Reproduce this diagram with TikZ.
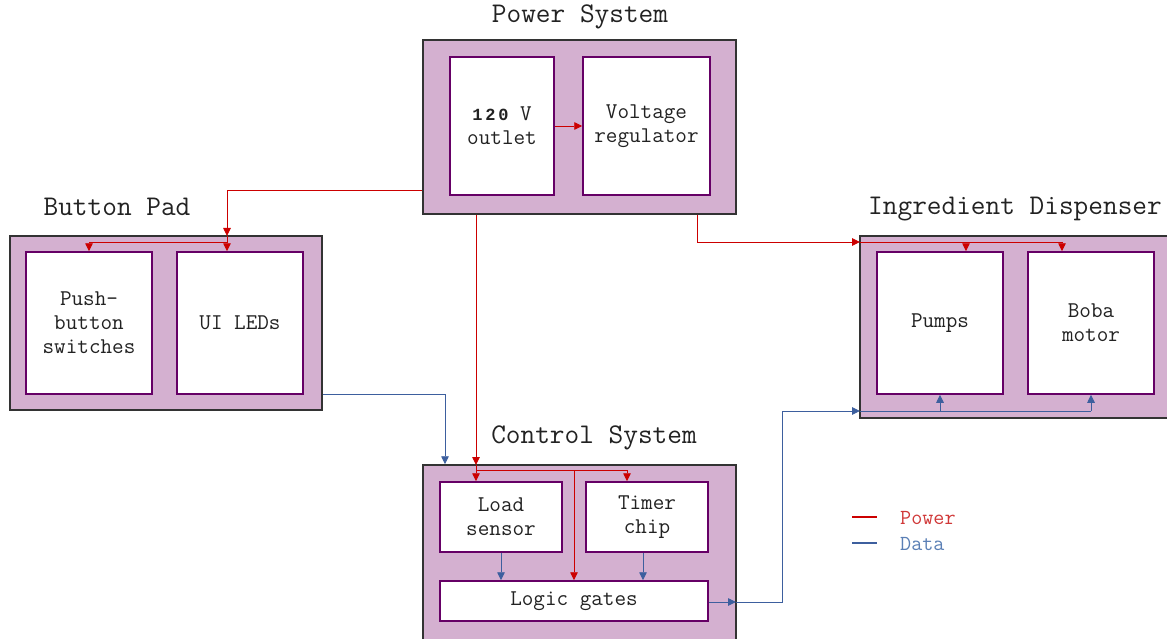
\documentclass[tikz,border=0pt]{standalone}
\usepackage{fontspec}
\newfontfamily\boldmono{Liberation Mono}
\usetikzlibrary{arrows.meta}
\definecolor{boxfill}{HTML}{D4B0D0}
\definecolor{outerline}{HTML}{333333}
\definecolor{innerline}{HTML}{660066}
\definecolor{pwr}{HTML}{CC0000}
\definecolor{dat}{HTML}{3D5F9E}
\definecolor{pwrtxt}{HTML}{D03838}
\definecolor{dattxt}{HTML}{5A7FB5}
\definecolor{txt}{HTML}{222222}
\tikzset{
  outerbox/.style={draw=outerline, fill=boxfill, line width=1.5pt, inner sep=0pt},
  innerbox/.style={draw=innerline, fill=white, line width=1.5pt, inner sep=0pt, align=center,
    font=\ttfamily\fontsize{22.5}{24}\selectfont, text=txt},
  titletext/.style={font=\ttfamily\fontsize{28.5}{30}\selectfont, text=txt, inner sep=0pt},
  pw/.style={draw=pwr, line width=0.9pt, -{Triangle[length=8pt,width=7.5pt]}},
  pwl/.style={draw=pwr, line width=0.9pt},
  dt/.style={draw=dat, line width=0.9pt, -{Triangle[length=8pt,width=7.5pt]}},
  dtl/.style={draw=dat, line width=0.9pt},
}
\begin{document}
\begin{tikzpicture}[x=1pt,y=-1pt]
\useasboundingbox (0,0) rectangle (1167,639);
% outer boxes
\node[outerbox, minimum width=313pt, minimum height=174pt] (ps) at (579.5,127) {};
\node[outerbox, minimum width=312pt, minimum height=174pt] (bp) at (166,323) {};
\node[outerbox, minimum width=312pt, minimum height=182pt] (id) at (1016,327) {};
\node[outerbox, minimum width=313pt, minimum height=190pt] (cs) at (579.5,560) {};
% titles
\node[titletext] (tps) at (580,17) {Power System};
\node[titletext] (tbp) at (117,207) {Button Pad};
\node[titletext] (tid) at (1015,209) {Ingredient Dispenser};
\node[titletext] (tcs) at (594,438) {Control System};
% inner boxes
\node[innerbox, minimum width=104pt, minimum height=138pt] (outlet) at (502,126) {{\boldmono\bfseries\fontsize{17}{24}\selectfont 1\,2\,0} V\\outlet};
\node[innerbox, minimum width=127pt, minimum height=138pt] (reg) at (646.5,126) {Voltage\\regulator};
\node[innerbox, minimum width=126pt, minimum height=142pt] (push) at (89,323) {Push-\\button\\switches};
\node[innerbox, minimum width=126pt, minimum height=142pt] (leds) at (240,323) {UI LEDs};
\node[innerbox, minimum width=126pt, minimum height=142pt] (pumps) at (940,323) {Pumps};
\node[innerbox, minimum width=126pt, minimum height=142pt] (boba) at (1091,323) {Boba\\motor};
\node[innerbox, minimum width=122pt, minimum height=70pt] (load) at (501,517) {Load\\sensor};
\node[innerbox, minimum width=122pt, minimum height=70pt] (timer) at (647,517) {Timer\\chip};
\node[innerbox, minimum width=268pt, minimum height=40pt] (logic) at (574,601) {Logic gates};
% power: outlet -> regulator
\draw[pw] (outlet.east) -- (reg.west);
% power -> button pad
\coordinate (bpin) at (227,236);
\coordinate (bpbr) at (227,242);
\draw[pw] (ps.west |- 0,190) -| (bpin);
\draw[pw] (bpin) -- (leds.north -| bpin);
\draw[pwl] (bpbr) -- (89,242);
\draw[pw] (89,242) -- (push.north -| 89,0);
% power -> control system
\coordinate (csin) at (476,465);
\draw[pw] (ps.south -| csin) -- (csin);
\draw[pw] (csin) -- (load.north -| csin);
\draw[pwl] (476,470) -- (627,470);
\draw[pw] (627,470) -- (timer.north -| 627,0);
\draw[pw] (574,470) -- (logic.north -| 574,0);
% power -> dispenser
\coordinate (idin) at (860,242);
\draw[pw] (ps.south -| 697,0) |- (idin);
\draw[pwl] (idin) -- (1062,242);
\draw[pw] (966,242) -- (pumps.north -| 966,0);
\draw[pw] (1062,242) -- (boba.north -| 1062,0);
% data: button pad -> control
\draw[dt] (bp.east |- 0,394) -| (cs.north -| 445,0);
% data: inside control
\draw[dt] (load.south) -- (logic.north -| load.south);
\draw[dt] (timer.south -| 643,0) -- (logic.north -| 643,0);
% data: logic -> dispenser
\coordinate (lgout) at (736,602);
\coordinate (idd) at (860,411);
\draw[dt] (logic.east |- lgout) -- (lgout);
\draw[dt] (lgout) -- (782,602) |- (idd);
\draw[dtl] (idd) -- (1091,411);
\draw[dt] (940,411) -- (pumps.south -| 940,0);
\draw[dt] (1091,411) -- (boba.south -| 1091,0);
% legend
\coordinate (lp1) at (852,517);
\coordinate (lp2) at (877,517);
\coordinate (ld1) at (852,543);
\coordinate (ld2) at (877,543);
\draw[pwl, line width=1.2pt] (lp1) -- (lp2);
\draw[dtl, line width=1.2pt] (ld1) -- (ld2);
\node[anchor=west, inner sep=0pt, text=pwrtxt, font=\ttfamily\fontsize{21.5}{23}\selectfont] (lgp) at (900,518) {Power};
\node[anchor=west, inner sep=0pt, text=dattxt, font=\ttfamily\fontsize{21.5}{23}\selectfont] (lgd) at (900,544) {Data};
\end{tikzpicture}
\end{document}
